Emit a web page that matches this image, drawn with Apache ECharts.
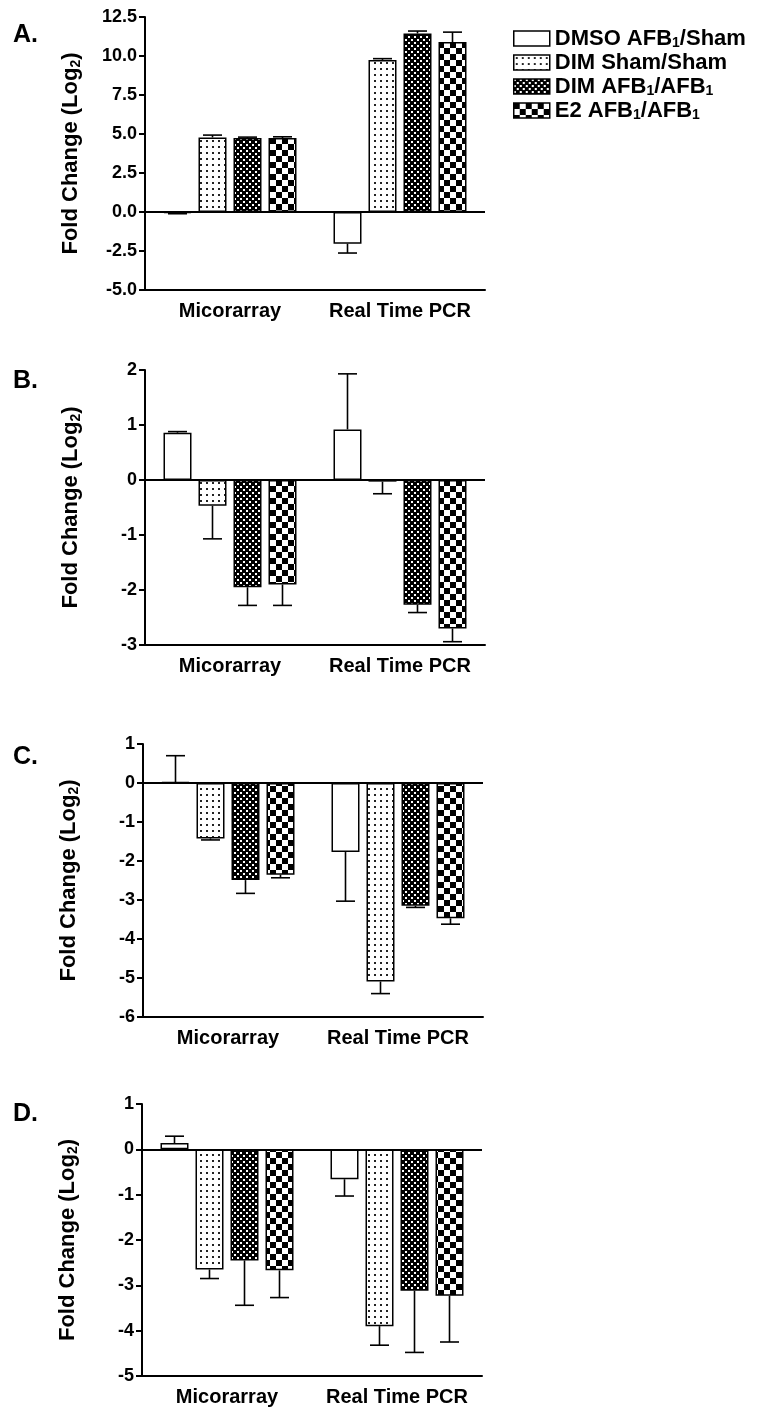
<!DOCTYPE html>
<html>
<head>
<meta charset="utf-8">
<script src="https://cdn.jsdelivr.net/npm/echarts@6/dist/echarts.min.js"></script>
<style>
  html, body { margin: 0; padding: 0; background: #fff; }
  #chart { width: 758px; height: 1410px; }
</style>
</head>
<body>
<div id="chart"></div>
<script>
const groups = ['Micorarray', 'Real Time PCR']
const seriesNames = ['DMSO AFB1/Sham', 'DIM Sham/Sham', 'DIM AFB1/AFB1', 'E2 AFB1/AFB1']
const legendLabels = ['DMSO AFB{sub|1}/Sham', 'DIM Sham/Sham', 'DIM AFB{sub|1}/AFB{sub|1}', 'E2 AFB{sub|1}/AFB{sub|1}']

// one row per treatment: [Micorarray, Real Time PCR]
const meanA = [[-0.06, -2.03], [4.78, 9.75], [4.74, 11.44], [4.74, 10.89]]
const errA = [[0.05, 0.6], [0.15, 0.08], [0.06, 0.16], [0.08, 0.64]]

const meanB = [[0.86, 0.92], [-0.47, -0.03], [-1.95, -2.27], [-1.9, -2.7]]
const errB = [[0.02, 1.01], [0.6, 0.22], [0.33, 0.14], [0.38, 0.24]]

const meanC = [[0.02, -1.77], [-1.42, -5.09], [-2.49, -3.15], [-2.35, -3.47]]
const errC = [[0.68, 1.26], [0.04, 0.31], [0.34, 0.04], [0.08, 0.15]]

const meanD = [[0.14, -0.66], [-2.65, -3.9], [-2.45, -3.12], [-2.67, -3.23]]
const errD = [[0.15, 0.37], [0.2, 0.42], [0.99, 1.36], [0.6, 1.02]]

const panelLetters = ['A.', 'B.', 'C.', 'D.']
const yMin = [-5, -3, -6, -5]
const yMax = [12.5, 2, 1, 1]
const yStep = [2.5, 1, 1, 1]

const means = [meanA, meanB, meanC, meanD]
const errs = [errA, errB, errC, errD]

const FONT = 'Liberation Sans, Arial, Helvetica, sans-serif'
const BAR_W = 28
const BAR_GAP = 7

const grids = [
  { left: 145, top: 17, width: 340, height: 273 },
  { left: 145, top: 370, width: 340, height: 275 },
  { left: 143, top: 744, width: 340, height: 273 },
  { left: 142, top: 1104, width: 340, height: 272 }
]
const titleTops = [23, 369, 745, 1102]

// fill patterns
const makePattern = (kind) => {
  const c = document.createElement('canvas')
  const ctx = c.getContext('2d')
  if (kind === 'white') {
    return '#fff'
  }
  if (kind === 'dots') {
    c.width = 6; c.height = 6
    ctx.fillStyle = '#fff'; ctx.fillRect(0, 0, 6, 6)
    ctx.fillStyle = '#222'; ctx.fillRect(2, 2, 2, 2)
  } else if (kind === 'dense') {
    c.width = 6; c.height = 6
    ctx.fillStyle = '#000'; ctx.fillRect(0, 0, 6, 6)
    ctx.fillStyle = '#fff'
    ctx.fillRect(0, 0, 2, 2)
    ctx.fillRect(3, 3, 2, 2)
  } else {
    c.width = 12; c.height = 12
    ctx.fillStyle = '#fff'; ctx.fillRect(0, 0, 12, 12)
    ctx.fillStyle = '#000'
    ctx.fillRect(0, 0, 6, 6)
    ctx.fillRect(6, 6, 6, 6)
  }
  return { image: c, repeat: 'repeat' }
}
const fills = [makePattern('white'), makePattern('dots'), makePattern('dense'), makePattern('checker')]

const subStyle = (size) => ({
  fontSize: size, fontWeight: 'bold', fontFamily: FONT, color: '#000',
  verticalAlign: 'bottom', lineHeight: size + 1
})

const chart = echarts.init(document.getElementById('chart'))

const xAxes = []
const yAxes = []
const series = []

grids.forEach((g, p) => {
  xAxes.push({
    type: 'category',
    gridIndex: p,
    data: groups,
    axisLine: { onZero: false, lineStyle: { color: '#000', width: 2 } },
    axisTick: { alignWithLabel: true, length: 6, lineStyle: { color: '#000', width: 2 } },
    axisLabel: { interval: 0, fontFamily: FONT, fontWeight: 'bold', fontSize: 20, color: '#000', margin: 11 },
    splitLine: { show: false }
  })
  yAxes.push({
    type: 'value',
    gridIndex: p,
    min: yMin[p],
    max: yMax[p],
    interval: yStep[p],
    name: 'Fold Change (Log{sub|2})',
    nameLocation: 'middle',
    nameGap: 62,
    nameTextStyle: {
      fontFamily: FONT, fontWeight: 'bold', fontSize: 22, color: '#000', lineHeight: 25,
      rich: { sub: subStyle(14) }
    },
    axisLine: { show: true, lineStyle: { color: '#000', width: 2 } },
    axisTick: { show: true, length: 6, lineStyle: { color: '#000', width: 2 } },
    axisLabel: {
      fontFamily: FONT, fontWeight: 'bold', fontSize: 18, color: '#000', margin: 8,
      formatter: (v) => p === 0 ? v.toFixed(1) : String(v)
    },
    splitLine: { show: false }
  })

  seriesNames.forEach((name, s) => {
    const bar = {
      name: name,
      type: 'bar',
      xAxisIndex: p,
      yAxisIndex: p,
      data: means[p][s],
      barWidth: BAR_W,
      barGap: (BAR_GAP / BAR_W * 100) + '%',
      itemStyle: { color: fills[s], borderColor: '#000', borderWidth: 1.5 },
      emphasis: { disabled: true }
    }
    if (s === 0) {
      bar.markLine = {
        silent: true,
        symbol: ['none', 'none'],
        label: { show: false },
        lineStyle: { color: '#000', width: 2, type: 'solid' },
        data: [{ yAxis: 0 }]
      }
    }
    series.push(bar)
  })

  // error bars, drawn away from zero
  const errData = []
  seriesNames.forEach((name, s) => {
    groups.forEach((grp, c) => {
      errData.push([c, s, means[p][s][c], errs[p][s][c]])
    })
  })
  series.push({
    name: 'err' + p,
    type: 'custom',
    xAxisIndex: p,
    yAxisIndex: p,
    data: errData,
    encode: { x: 0, y: 2 },
    z: 5,
    silent: true,
    renderItem: (params, api) => {
      const c = api.value(0)
      const s = api.value(1)
      const m = api.value(2)
      const e = api.value(3)
      const dir = m < 0 ? -1 : 1
      const p0 = api.coord([c, m])
      const p1 = api.coord([c, m + dir * e])
      const x = p0[0] + (s - 1.5) * (BAR_W + BAR_GAP)
      const st = { stroke: '#000', lineWidth: 1.6 }
      return {
        type: 'group',
        children: [
          { type: 'line', shape: { x1: x, y1: p0[1], x2: x, y2: p1[1] }, style: st },
          { type: 'line', shape: { x1: x - 9.5, y1: p1[1], x2: x + 9.5, y2: p1[1] }, style: st }
        ]
      }
    }
  })
})

const option = {
  backgroundColor: '#fff',
  animation: false,
  title: panelLetters.map((t, i) => ({
    text: t,
    left: 13,
    top: titleTops[i],
    padding: 0,
    textStyle: { fontFamily: FONT, fontWeight: 'bold', fontSize: 25, color: '#000' }
  })),
  legend: {
    data: seriesNames,
    orient: 'vertical',
    left: 513,
    top: 27,
    padding: 0,
    icon: 'rect',
    itemWidth: 36,
    itemHeight: 15,
    itemGap: 1,
    selectedMode: false,
    itemStyle: { borderColor: '#000', borderWidth: 1.5 },
    formatter: (name) => legendLabels[seriesNames.indexOf(name)],
    textStyle: {
      fontFamily: FONT, fontWeight: 'bold', fontSize: 22, color: '#000', lineHeight: 23,
      rich: { sub: subStyle(14) }
    }
  },
  grid: grids,
  xAxis: xAxes,
  yAxis: yAxes,
  series: series
}

chart.setOption(option)
</script>
</body>
</html>
